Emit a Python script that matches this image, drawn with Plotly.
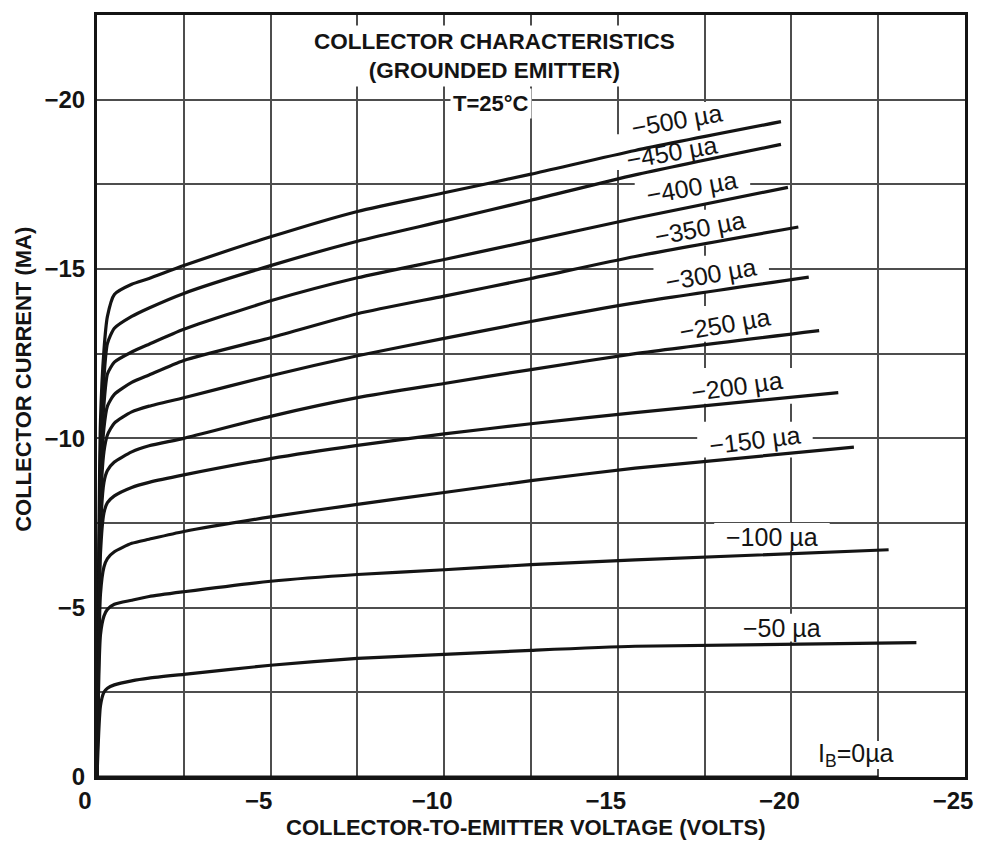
import plotly.graph_objects as go

# Collector-emitter voltage grid (volts) shared by all base-current curves
vce_grid = [0, -0.1, -0.2, -0.3, -0.5, -1.0, -1.5, -2.5, -5, -7.5, -10, -12.5, -15.5]

# Collector current (mA) on vce_grid for each base current
ic_500 = [0, -10.5, -12.6, -13.6, -14.25, -14.55, -14.72, -15.1, -15.95, -16.7, -17.25, -17.8, -18.5]
ic_450 = [0, -9.5, -11.8, -12.8, -13.25, -13.6, -13.85, -14.28, -15.1, -15.82, -16.42, -17.03, -17.78]
ic_400 = [0, -9.0, -11.0, -11.9, -12.25, -12.55, -12.78, -13.22, -14.06, -14.74, -15.28, -15.83, -16.5]
ic_350 = [0, -8.5, -10.3, -10.95, -11.3, -11.65, -11.87, -12.3, -12.97, -13.68, -14.2, -14.72, -15.37]
ic_300 = [0, -8.0, -9.6, -10.1, -10.45, -10.78, -10.95, -11.2, -11.85, -12.44, -12.95, -13.45, -14.0]
ic_250 = [0, -7.3, -8.7, -9.05, -9.3, -9.6, -9.78, -10.0, -10.65, -11.2, -11.62, -12.03, -12.5]
ic_200 = [0, -6.6, -7.8, -8.1, -8.3, -8.55, -8.7, -8.92, -9.4, -9.79, -10.13, -10.43, -10.76]
ic_150 = [0, -5.4, -6.2, -6.45, -6.65, -6.9, -7.02, -7.25, -7.68, -8.05, -8.4, -8.75, -9.12]
ic_100 = [0, -4.2, -4.75, -4.95, -5.1, -5.22, -5.33, -5.47, -5.78, -5.98, -6.12, -6.27, -6.41]
ic_50 = [0, -2.1, -2.5, -2.62, -2.72, -2.84, -2.92, -3.03, -3.3, -3.5, -3.62, -3.74, -3.86]
ic_0 = [0, 0, 0, 0, 0, 0, 0, 0, 0, 0, 0, 0, 0]

# Last plotted point of each curve (volts, mA)
v_end = [-19.7, -19.7, -19.9, -20.2, -20.5, -20.8, -21.35, -21.8, -22.8, -23.6, -22.5]
i_end = [-19.35, -18.68, -17.41, -16.24, -14.76, -13.18, -11.35, -9.74, -6.71, -3.97, 0]

curve_labels = ["\u2212500 \u00b5a", "\u2212450 \u00b5a", "\u2212400 \u00b5a", "\u2212350 \u00b5a",
                "\u2212300 \u00b5a", "\u2212250 \u00b5a", "\u2212200 \u00b5a", "\u2212150 \u00b5a",
                "\u2212100 \u00b5a", "\u221250 \u00b5a", "I<sub>B</sub>=0\u00b5a"]

# Tick positions / labels
x_ticks = [0, -2.5, -5, -7.5, -10, -12.5, -15, -17.5, -20, -22.5, -25]
x_ticktext = ["0", "", "\u22125", "", "\u221210", "", "\u221215", "", "\u221220", "", "\u221225"]
y_ticks = [0, -2.5, -5, -7.5, -10, -12.5, -15, -17.5, -20, -22.5]
y_ticktext = ["0", "", "\u22125", "", "\u221210", "", "\u221215", "", "\u221220", ""]

curves = [ic_500, ic_450, ic_400, ic_350, ic_300, ic_250, ic_200, ic_150, ic_100, ic_50, ic_0]

# Label placement (volts, mA) and tilt
label_xy = [(-16.71, -19.4), (-16.57, -18.45), (-17.15, -17.42), (-17.37, -16.22),
            (-17.69, -14.86), (-18.09, -13.38), (-18.43, -11.55), (-18.95, -9.96),
            (-19.44, -7.09), (-19.72, -4.41), (-21.87, -0.65)]
label_tilt = [-10, -10, -10, -11, -10, -10, -8, -7, 0, 0, 0]

FONT = "Liberation Sans, Arial, sans-serif"
INK = "#141414"

fig = go.Figure()

for ic, ve, ie in zip(curves, v_end, i_end):
    fig.add_trace(go.Scatter(
        x=vce_grid + [ve], y=ic + [ie], mode="lines",
        line=dict(color=INK, width=3.2, shape="spline", smoothing=0.6),
        showlegend=False, hoverinfo="skip"))

# px -> data scale used for the white boxes behind curve labels
PX_V = 872 / 25.0
PX_I = 765 / 22.5
for (lx, ly), tilt, txt in zip(label_xy, label_tilt, curve_labels):
    hw = 58 / PX_V
    hh = (14 + (4 if tilt else 0)) / PX_I
    fig.add_shape(type="rect", xref="x", yref="y", x0=lx + hw, x1=lx - hw,
                  y0=ly - hh, y1=ly + hh, layer="between",
                  fillcolor="white", line_width=0)
    fig.add_annotation(x=lx, y=ly, xref="x", yref="y", text=txt, showarrow=False,
                       textangle=tilt, font=dict(family=FONT, size=25, color=INK))

# Heading block inside the grid
fig.add_annotation(x=-11.45, y=-21.29, xref="x", yref="y",
                   text="<b>COLLECTOR CHARACTERISTICS</b><br><b>(GROUNDED EMITTER)</b>",
                   showarrow=False, bgcolor="white", borderpad=3,
                   font=dict(family=FONT, size=22.5, color=INK))
fig.add_annotation(x=-11.34, y=-19.88, xref="x", yref="y", text="<b>T=25\u00b0C</b>",
                   showarrow=False, bgcolor="white", borderpad=2,
                   font=dict(family=FONT, size=22, color=INK))

# Axis titles
fig.add_annotation(x=-0.0849, y=0.5216, xref="paper", yref="paper",
                   xanchor="center", yanchor="middle",
                   text="<b>COLLECTOR CURRENT (MA)</b>", textangle=-90, showarrow=False,
                   font=dict(family=FONT, size=22, color=INK))
fig.add_annotation(x=0.494, y=-0.0667, xref="paper", yref="paper",
                   xanchor="center", yanchor="middle",
                   text="<b>COLLECTOR-TO-EMITTER VOLTAGE (VOLTS)</b>", showarrow=False,
                   font=dict(family=FONT, size=22, color=INK))

axis_common = dict(showgrid=True, gridcolor="#4d4d4d", gridwidth=2,
                   showline=True, linecolor=INK, linewidth=3, mirror=True,
                   zeroline=False, ticks="", tickmode="array",
                   tickfont=dict(family=FONT, size=24, color=INK, weight="bold"))

fig.update_xaxes(range=[0, -25], tickvals=x_ticks, ticktext=x_ticktext,
                 ticklabelstandoff=0, ticklabelshift=12, **axis_common)
fig.update_yaxes(range=[0, -22.5], tickvals=y_ticks, ticktext=y_ticktext,
                 ticklabelstandoff=4, **axis_common)

fig.update_layout(width=985, height=843, margin=dict(l=97, r=16, t=12, b=66),
                  plot_bgcolor="white", paper_bgcolor="white", showlegend=False)

fig.write_html("out.html")
